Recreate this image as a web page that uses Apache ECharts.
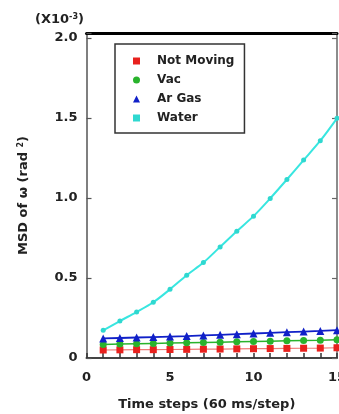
<!DOCTYPE html>
<html><head><meta charset="utf-8">
<script src="https://cdn.jsdelivr.net/npm/echarts@6/dist/echarts.min.js"></script>
<style>html,body{margin:0;padding:0;background:#fff}#c{width:339px;height:414px}</style>
</head><body><div id="c"></div>
<script>
const timeSteps = [1,2,3,4,5,6,7,8,9,10,11,12,13,14,15];
const notMoving = [0.050,0.051,0.052,0.052,0.053,0.054,0.055,0.056,0.057,0.058,0.059,0.060,0.061,0.062,0.064];
const vac       = [0.085,0.087,0.089,0.091,0.093,0.095,0.097,0.099,0.101,0.103,0.105,0.107,0.109,0.111,0.114];
const arGas     = [0.122,0.125,0.128,0.131,0.134,0.137,0.141,0.145,0.149,0.153,0.157,0.161,0.165,0.169,0.174];
const water     = [0.173,0.231,0.287,0.348,0.429,0.517,0.596,0.694,0.792,0.886,0.997,1.115,1.236,1.357,1.497];
const yTicks = [0, 0.5, 1.0, 1.5, 2.0];
const xTickLabels = [0, 5, 10, 15];

const font = '"DejaVu Sans", sans-serif';
const pair = a => timeSteps.map((t,i)=>[t,a[i]]);

const chart = echarts.init(document.getElementById('c'), null, {renderer:'canvas'});
chart.setOption({
  animation:false,
  backgroundColor:'#fff',
  grid:{left:86.5, top:33, right:2, bottom:56, containLabel:false, outerBoundsMode:'none'},
  legend:{
    orient:'vertical', left:115, top:44,
    padding:[10,10,8,18],
    borderColor:'#333', borderWidth:1.5,
    itemWidth:7, itemHeight:7, itemGap:5,
    textStyle:{fontFamily:font, fontWeight:'bold', fontSize:12, color:'#222', lineHeight:14, padding:[0,0,0,12]},
    data:[
      {name:'Not Moving', icon:'rect'},
      {name:'Vac', icon:'circle'},
      {name:'Ar Gas', icon:'triangle'},
      {name:'Water', icon:'rect'}
    ]
  },
  xAxis:[{
    type:'value', min:0, max:15, interval:1,
    axisLine:{lineStyle:{color:'#444', width:2}},
    axisTick:{inside:true, length:5, lineStyle:{color:'#333', width:1.5}},
    axisLabel:{fontFamily:font, fontWeight:'bold', fontSize:13, color:'#222', margin:13,
      formatter:v => xTickLabels.includes(v) ? String(v) : ''},
    splitLine:{show:false},
    name:'Time steps (60 ms/step)', nameLocation:'middle', nameGap:40,
    nameTextStyle:{fontFamily:font, fontWeight:'bold', fontSize:13, color:'#222', padding:[0,10,0,0]}
  },{
    type:'value', position:'top', min:0, max:15,
    axisLine:{show:true, onZero:false, lineStyle:{color:'#000', width:3}},
    axisTick:{show:false}, axisLabel:{show:false}, splitLine:{show:false}
  }],
  yAxis:[{
    type:'value', min:0, max:2.03, interval:0.5,
    axisLine:{show:true, lineStyle:{color:'#555', width:1.5}},
    axisTick:{show:true, inside:true, length:5, lineStyle:{color:'#555', width:1.2}},
    axisLabel:{fontFamily:font, fontWeight:'bold', fontSize:13, color:'#222', margin:9,
      formatter:v => { const t = yTicks.find(y=>Math.abs(y-v)<1e-6); return t===undefined ? '' : (t===0 ? '0' : t.toFixed(1)); }},
    splitLine:{show:false},
    name:'MSD of ω (rad {s|2})', nameLocation:'middle', nameGap:56, nameRotate:90,
    nameTextStyle:{fontFamily:font, fontWeight:'bold', fontSize:13, color:'#222',
      rich:{s:{fontFamily:font, fontWeight:'bold', fontSize:8, color:'#222', verticalAlign:'top', padding:[0,0,6,0]}}}
  },{
    type:'value', position:'right', min:0, max:2.03, interval:0.5,
    axisLine:{show:true, onZero:false, lineStyle:{color:'#666', width:1.5}},
    axisTick:{show:true, inside:true, length:5, lineStyle:{color:'#666', width:1.2}},
    axisLabel:{show:false}, splitLine:{show:false}
  }],
  graphic:[{
    type:'text', left:35, top:13,
    style:{text:'(X10{s|-3})', fontFamily:font, fontWeight:'bold', fontSize:13, fill:'#222',
      rich:{s:{fontFamily:font, fontWeight:'bold', fontSize:8, fill:'#222', padding:[0,0,6,0]}}}
  }],
  series:[
    {name:'Not Moving', type:'line', data:pair(notMoving), symbol:'rect', symbolSize:7,
      itemStyle:{color:'#e8211d'}, lineStyle:{color:'#f07a78', width:1.2}, z:3},
    {name:'Vac', type:'line', data:pair(vac), symbol:'circle', symbolSize:7,
      itemStyle:{color:'#29b32c'}, lineStyle:{color:'#29b32c', width:1.5}, z:4},
    {name:'Ar Gas', type:'line', data:pair(arGas), symbol:'triangle', symbolSize:8,
      itemStyle:{color:'#1020c8'}, lineStyle:{color:'#1020c8', width:1.8}, z:5},
    {name:'Water', type:'line', data:pair(water), symbol:'circle', symbolSize:5, smooth:0.3,
      itemStyle:{color:'#2fd8d0'}, lineStyle:{color:'#38e6e0', width:2}, z:6}
  ]
});
</script></body></html>
